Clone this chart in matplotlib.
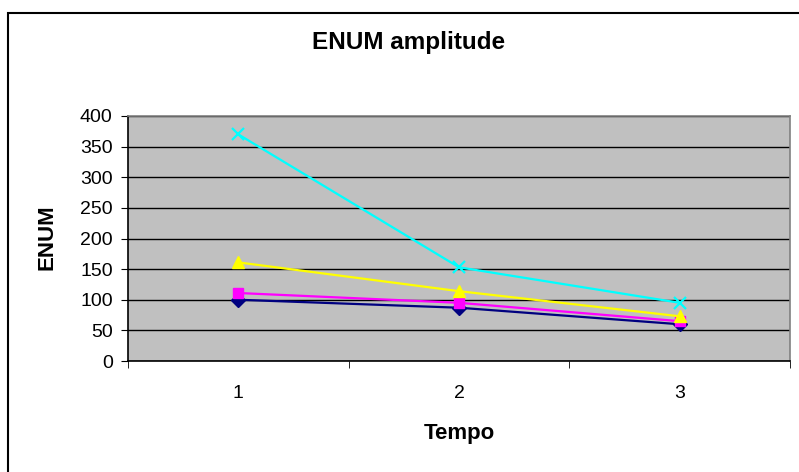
import matplotlib
matplotlib.use("Agg")
import matplotlib.pyplot as plt
from matplotlib import patches

plt.rcParams['font.family'] = ['Liberation Sans', 'DejaVu Sans']

# data
tempo = [1, 2, 3]
serie_1 = [100, 87, 60]
serie_2 = [111, 95, 65]
serie_3 = [161, 114, 73]
serie_4 = [370, 153, 95]
y_ticks = [0, 50, 100, 150, 200, 250, 300, 350, 400]

styles = [
    (serie_1, "#000080", "D", 7),
    (serie_2, "#FF00FF", "s", 7),
    (serie_3, "#FFFF00", "^", 8),
    (serie_4, "#00FFFF", "x", 9),
]

fig = plt.figure(figsize=(7.99, 4.72), dpi=100)
ax = fig.add_axes([128/799, 1 - 361/472, (790 - 128)/799, (361 - 116)/472])

# outer chart border (cropped on the right and bottom)
fig.patches.append(patches.Rectangle((8/799, -0.05), 1.0, 1 - 13/472 + 0.05,
                                     transform=fig.transFigure, fill=False,
                                     edgecolor="black", linewidth=1.5))

ax.set_facecolor("#C0C0C0")
for vals, color, marker, ms in styles:
    ax.plot(tempo, vals, color=color, linewidth=1.6, marker=marker,
            markersize=ms, markeredgecolor=color, markeredgewidth=1.6 if marker == "x" else 1,
            zorder=3)

ax.set_xlim(0.5, 3.5)
ax.set_ylim(0, 400)
ax.set_yticks(y_ticks)
ax.yaxis.grid(True, color="black", linewidth=1)
ax.set_axisbelow(True)

ax.set_xticks(tempo)
ax.set_xticks([0.5, 1.5, 2.5, 3.5], minor=True)
ax.tick_params(axis="x", which="major", length=0, pad=17, labelsize=14)
ax.tick_params(axis="x", which="minor", length=5, direction="out", color="black")
ax.tick_params(axis="y", length=5, direction="out", labelsize=14, pad=6)

ax.spines["top"].set_color("#808080")
ax.spines["right"].set_color("#808080")
ax.spines["left"].set_color("black")
ax.spines["bottom"].set_color("black")
for s in ax.spines.values():
    s.set_linewidth(1.2)

fig.text(409/799, 1 - 42/472, "ENUM amplitude", ha="center", va="center",
         fontsize=17.5, fontweight="bold")
fig.text(47/799, 1 - 237/472, "ENUM", ha="center", va="center", rotation=90,
         fontsize=16, fontweight="bold")
fig.text(459/799, 1 - 434/472, "Tempo", ha="center", va="center",
         fontsize=16, fontweight="bold")

fig.savefig("out.png", dpi=100)
